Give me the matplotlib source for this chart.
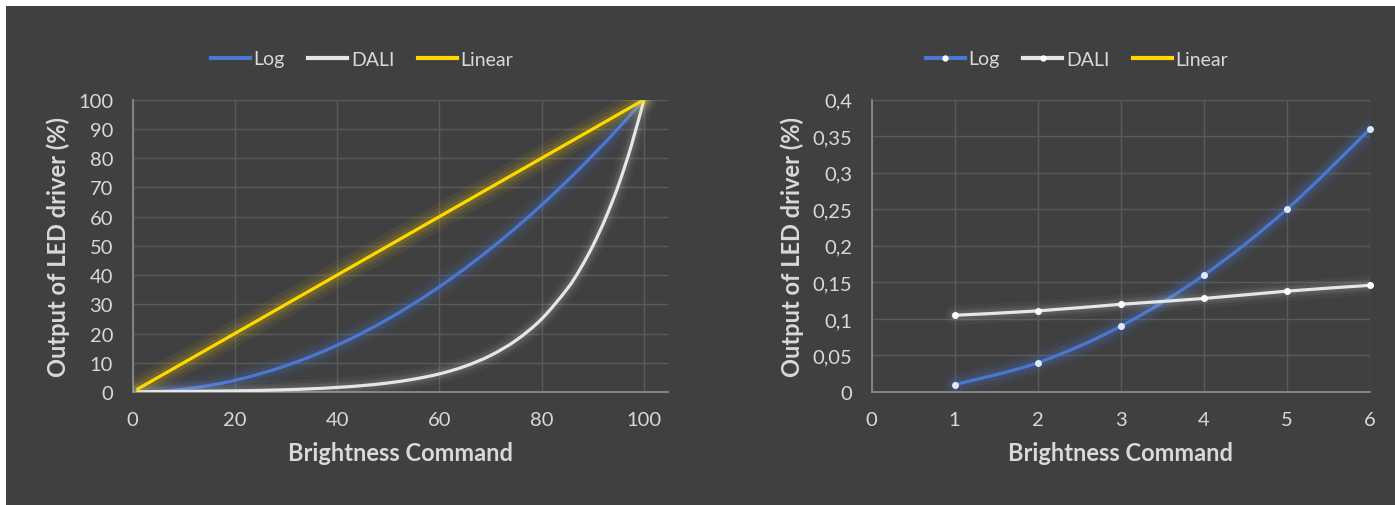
import numpy as np
import matplotlib
matplotlib.use("Agg")
import matplotlib.pyplot as plt
from matplotlib.path import Path
from matplotlib.patches import PathPatch, Rectangle
from matplotlib.lines import Line2D

plt.rcParams['font.family'] = ['Lato', 'DejaVu Sans']

# ---------------- data ----------------
left_x = [1, 5, 10, 15, 20, 25, 30, 35, 40, 45, 50, 55, 60, 65, 70, 75, 80, 85, 90, 95, 100]
left_log = [0.01, 0.25, 1.0, 2.25, 4.0, 6.25, 9.0, 12.25, 16.0, 20.25, 25.0, 30.25, 36.0,
            42.25, 49.0, 56.25, 64.0, 72.25, 81.0, 90.25, 100.0]
dali_x = [1, 5, 10, 15, 20, 25, 30, 35, 40, 45, 50, 55, 60, 65, 70, 75, 80, 85, 87.5,
          90, 92.5, 95, 97.5, 100]
left_dali = [0.1, 0.14, 0.2, 0.28, 0.39, 0.55, 0.78, 1.1, 1.56, 2.2, 3.1, 4.4, 6.2, 8.8,
             12.5, 17.7, 25.0, 35.3, 42.0, 50.0, 59.5, 70.7, 84.1, 100.0]
linear_x = [1, 100]
left_linear = [1, 100]

right_x = [1, 2, 3, 4, 5, 6]
right_log = [0.01, 0.04, 0.09, 0.16, 0.25, 0.36]
right_dali = [0.105, 0.111, 0.120, 0.128, 0.138, 0.146]

left_xticks = [0, 20, 40, 60, 80, 100]
left_yticks = [0, 10, 20, 30, 40, 50, 60, 70, 80, 90, 100]
right_xticks = [0, 1, 2, 3, 4, 5, 6]
right_yticks = [0, 0.05, 0.1, 0.15, 0.2, 0.25, 0.3, 0.35, 0.4]
right_ylabels = ['0', '0,05', '0,1', '0,15', '0,2', '0,25', '0,3', '0,35', '0,4']
series_names = ['Log', 'DALI', 'Linear']

# ---------------- style ----------------
BG = '#404040'
GRID = '#5a5a5a'
SPINE = '#8a8a8a'
TXT = '#d9d9d9'
C_LOG = '#4a78d0'
C_DALI = '#e6e6e6'
C_LIN = '#ffd800'
TICK_FS = 14.5
TITLE_FS = 17
LEG_FS = 14


def smooth_path(xs, ys):
    pts = np.column_stack([xs, ys]).astype(float)
    n = len(pts)
    verts = [pts[0]]
    codes = [Path.MOVETO]
    if n == 2:
        verts.append(pts[1]); codes.append(Path.LINETO)
        return Path(verts, codes)
    for i in range(n - 1):
        p0 = pts[i - 1] if i > 0 else pts[i]
        p1 = pts[i]
        p2 = pts[i + 1]
        p3 = pts[i + 2] if i + 2 < n else pts[i + 1]
        c1 = p1 + (p2 - p0) / 6.0
        c2 = p2 - (p3 - p1) / 6.0
        verts += [c1, c2, p2]
        codes += [Path.CURVE4] * 3
    return Path(verts, codes)


def glow_line(ax, xs, ys, color, lw=2.3, glow=(16, 11, 7), galpha=(0.05, 0.07, 0.10), z=3):
    path = smooth_path(xs, ys)
    for w, a in zip(glow, galpha):
        ax.add_patch(PathPatch(path, facecolor='none', edgecolor=color, lw=w, alpha=a,
                               capstyle='round', joinstyle='round', zorder=z))
    ax.add_patch(PathPatch(path, facecolor='none', edgecolor=color, lw=lw,
                           capstyle='round', joinstyle='round', zorder=z + 0.5))


def style_axes(ax):
    ax.set_facecolor(BG)
    ax.grid(True, color=GRID, lw=1.0)
    ax.set_axisbelow(True)
    for s in ['top', 'right']:
        ax.spines[s].set_visible(False)
    for s in ['left', 'bottom']:
        ax.spines[s].set_color(SPINE)
        ax.spines[s].set_linewidth(1.3)
    ax.tick_params(axis='both', length=0, colors=TXT, labelsize=TICK_FS)
    ax.tick_params(axis='y', pad=14)
    ax.tick_params(axis='x', pad=14)


fig = plt.figure(figsize=(13.95, 5.06), dpi=100)
fig.patch.set_facecolor('white')
fig.add_artist(Rectangle((6 / 1395, 0), 1, 1 - 7 / 506, transform=fig.transFigure,
                         facecolor=BG, edgecolor='none', zorder=0))

# ---------------- left chart ----------------
axL = fig.add_axes([132.5 / 1395, 1 - 393 / 506, (668 - 132.5) / 1395, (393 - 100.7) / 506])
style_axes(axL)
axL.set_xlim(0, 104.7)
axL.set_ylim(0, 100)
axL.set_xticks(left_xticks)
axL.set_yticks(left_yticks)
glow_line(axL, left_x, left_log, C_LOG, glow=(16, 11, 7), galpha=(0.06, 0.09, 0.12), z=3)
glow_line(axL, dali_x, left_dali, C_DALI, glow=(14, 9, 6), galpha=(0.04, 0.06, 0.08), z=4)
glow_line(axL, linear_x, left_linear, C_LIN, glow=(18, 12, 7), galpha=(0.06, 0.08, 0.12), z=5)
axL.set_xlabel('Brightness Command', color=TXT, fontsize=TITLE_FS, fontweight='bold', labelpad=9)
axL.set_ylabel('Output of LED driver (%)', color=TXT, fontsize=TITLE_FS, fontweight='bold', labelpad=6)

hL = [Line2D([], [], color=c, lw=3) for c in (C_LOG, C_DALI, C_LIN)]
fig.legend(hL, series_names, loc='center', bbox_to_anchor=(362 / 1395, 1 - 60 / 506),
           ncol=3, frameon=False, fontsize=LEG_FS, labelcolor=TXT, handlelength=2.0,
           handletextpad=0.2, columnspacing=1.2)

# ---------------- right chart ----------------
axR = fig.add_axes([871.5 / 1395, 1 - 393 / 506, (1370 - 871.5) / 1395, (393 - 100.7) / 506])
style_axes(axR)
axR.set_xlim(0, 6)
axR.set_ylim(0, 0.4)
axR.set_xticks(right_xticks)
axR.set_yticks(right_yticks)
axR.set_yticklabels(right_ylabels)
glow_line(axR, right_x, right_log, C_LOG, glow=(16, 11, 7), galpha=(0.07, 0.10, 0.14), z=3)
glow_line(axR, right_x, right_dali, C_DALI, glow=(14, 9, 6), galpha=(0.04, 0.06, 0.08), z=4)
axR.plot(right_x, right_log, 'o', ms=4, mfc='#dfe8ff', mec='#dfe8ff', zorder=8, clip_on=False)
axR.plot(right_x, right_dali, 'o', ms=4, mfc='white', mec='white', zorder=8, clip_on=False)
axR.set_xlabel('Brightness Command', color=TXT, fontsize=TITLE_FS, fontweight='bold', labelpad=9)
axR.set_ylabel('Output of LED driver (%)', color=TXT, fontsize=TITLE_FS, fontweight='bold', labelpad=6)

hR = [Line2D([], [], color=C_LOG, lw=3, marker='o', ms=3.5, mfc='white', mec='white'),
      Line2D([], [], color=C_DALI, lw=3, marker='o', ms=3.5, mfc='white', mec='white'),
      Line2D([], [], color=C_LIN, lw=3)]
fig.legend(hR, series_names, loc='center', bbox_to_anchor=(1077 / 1395, 1 - 60 / 506),
           ncol=3, frameon=False, fontsize=LEG_FS, labelcolor=TXT, handlelength=2.0,
           handletextpad=0.2, columnspacing=1.2)

fig.savefig('out.png', dpi=100, facecolor=fig.get_facecolor())
